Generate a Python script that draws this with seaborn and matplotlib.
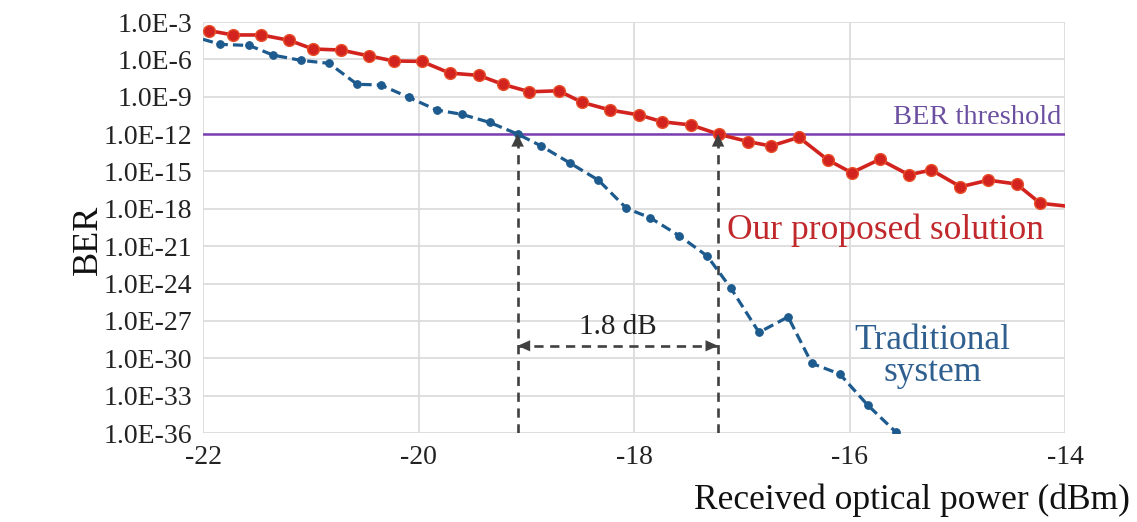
import numpy as np
import pandas as pd
import matplotlib
matplotlib.use("Agg")
import matplotlib.pyplot as plt
from matplotlib.ticker import FixedLocator, FuncFormatter
import seaborn as sns

# ---- data ----
proposed_x = [-21.94, -21.72, -21.46, -21.20, -20.98, -20.72, -20.46, -20.23, -19.97, -19.71,
              -19.44, -19.22, -18.97, -18.70, -18.48, -18.22, -17.95, -17.74, -17.47, -17.21,
              -16.94, -16.73, -16.47, -16.20, -15.98, -15.72, -15.45, -15.24, -14.97, -14.71,
              -14.45, -14.23, -14.00]
proposed_ber = [2.0e-4, 9.1e-5, 9.1e-5, 3.4e-5, 6.8e-6, 5.6e-6, 1.9e-6, 7.4e-7, 6.9e-7, 7.9e-8,
                5.2e-8, 1.0e-8, 2.5e-9, 3.0e-9, 3.5e-10, 8.5e-11, 3.4e-11, 9.8e-12, 5.4e-12, 9.5e-13,
                2.5e-13, 1.1e-13, 5.5e-13, 8.3e-15, 7.9e-16, 9.3e-15, 5.4e-16, 1.3e-15, 5.9e-17, 2.0e-16,
                9.8e-17, 2.8e-18, 1.7e-18]

traditional_x = [-22.00, -21.84, -21.57, -21.35, -21.09, -20.83, -20.57, -20.35, -20.09, -19.83,
                 -19.60, -19.34, -19.08, -18.86, -18.59, -18.33, -18.07, -17.85, -17.58, -17.32,
                 -17.10, -16.84, -16.57, -16.35, -16.09, -15.83, -15.57]
traditional_ber = [4.1e-5, 1.6e-5, 1.3e-5, 2.2e-6, 8.3e-7, 4.8e-7, 1.0e-8, 8.7e-9, 8.9e-10, 8.5e-11,
                   3.9e-11, 8.7e-12, 1.0e-12, 1.1e-13, 4.5e-15, 2.0e-16, 1.1e-18, 1.9e-19, 6.9e-21, 1.6e-22,
                   4.1e-25, 1.2e-28, 2.1e-27, 3.9e-31, 5.4e-32, 1.7e-34, 1.2e-36]

ber_threshold = 1.0e-12
crossing_x = [-19.08, -17.22]
gap_label = "1.8 dB"
gap_level = 1.0e-29

y_ticks = [1e-3, 1e-6, 1e-9, 1e-12, 1e-15, 1e-18, 1e-21, 1e-24, 1e-27, 1e-30, 1e-33, 1e-36]
x_ticks = [-22, -20, -18, -16, -14]

# ---- style ----
sns.set_style("whitegrid")
plt.rcParams['font.family'] = ['Liberation Serif', 'DejaVu Serif']
plt.rcParams['mathtext.fontset'] = 'stix'

RED = "#d2231f"
BLUE = "#1d5a8e"
PURPLE = "#7a3fb0"
GRID = "#d9d9d9"
DARK = "#404040"

fig = plt.figure(figsize=(11.37, 5.22), dpi=100)
ax = fig.add_axes([203/1137, 1 - 433/522, (1065 - 203)/1137, (433 - 22)/522])

df_p = pd.DataFrame({"x": proposed_x, "ber": proposed_ber})
df_t = pd.DataFrame({"x": traditional_x, "ber": traditional_ber})

sns.lineplot(data=df_p, x="x", y="ber", ax=ax, color=RED, lw=2.6, marker="o",
             markersize=8.5, markeredgecolor="#e8502a", markeredgewidth=1.0,
             markevery=slice(0, len(proposed_x) - 1), zorder=4)
sns.lineplot(data=df_t, x="x", y="ber", ax=ax, color=BLUE, lw=2.3, marker="o",
             markersize=5.5, markeredgecolor=BLUE, dashes=False, linestyle=(0, (3.2, 1.6)),
             markevery=slice(1, len(traditional_x)), zorder=4)

ax.set_yscale("log")
ax.set_xlim(-22, -14)
ax.set_ylim(1e-36, 1e-3)
ax.yaxis.set_major_locator(FixedLocator(y_ticks))
ax.yaxis.set_minor_locator(FixedLocator([]))
ax.yaxis.set_major_formatter(FuncFormatter(lambda v, p: "1.0E%d" % int(round(np.log10(v)))))
ax.set_xticks(x_ticks)
ax.set_xticklabels([str(t) for t in x_ticks])
ax.tick_params(axis="both", labelsize=20, length=0, colors="#222222")
ax.tick_params(axis="y", pad=8)
ax.tick_params(axis="x", pad=9)
ax.grid(True, color=GRID, lw=1.2)
for s in ax.spines.values():
    s.set_visible(False)
ax.set_xlabel("")
ax.set_ylabel("")

# threshold
ax.axhline(ber_threshold, color=PURPLE, lw=1.8, zorder=3)
ax.text(-14.03, 2.0e-11, "BER threshold", color="#6b4fa0", fontsize=20.5,
        ha="right", va="center")

# vertical dashed markers with arrowheads
for cx in crossing_x:
    ax.plot([cx, cx], [1e-36, 2.2e-13], color=DARK, lw=1.9, ls=(0, (3.5, 2.5)), zorder=2)
    ax.annotate("", xy=(cx, ber_threshold), xytext=(0, -15), textcoords="offset points",
                arrowprops=dict(arrowstyle="-|>,head_length=0.9,head_width=0.45",
                                color=DARK, lw=0.01, shrinkA=0, shrinkB=0), zorder=5)

# horizontal double arrow
ax.plot(crossing_x, [gap_level, gap_level], color=DARK, lw=1.9, ls=(0, (3.5, 2.5)), zorder=2)
ax.annotate("", xy=(crossing_x[0], gap_level), xytext=(14, 0), textcoords="offset points",
            arrowprops=dict(arrowstyle="-|>,head_length=0.9,head_width=0.4",
                            color=DARK, lw=0.01, shrinkA=0, shrinkB=0))
ax.annotate("", xy=(crossing_x[1], gap_level), xytext=(-14, 0), textcoords="offset points",
            arrowprops=dict(arrowstyle="-|>,head_length=0.9,head_width=0.4",
                            color=DARK, lw=0.01, shrinkA=0, shrinkB=0))
ax.text(np.mean(crossing_x), 3e-28, gap_label, fontsize=21, color="#222222",
        ha="center", va="center")

# series labels
ax.text(-17.14, 2.0e-20, "Our proposed solution", color="#c0282c", fontsize=25.5,
        ha="left", va="center")
ax.text(-15.23, 1.3e-30, "Traditional\nsystem", color="#2e5f8f", fontsize=25.5,
        ha="center", va="center", linespacing=0.95)

# axis titles
fig.text(88/1137, 1 - 240/522, "BER", rotation=90, fontsize=26, ha="center", va="center",
         color="#111111")
fig.text(1130/1137, 1 - 500/522, "Received optical power (dBm)", fontsize=25.5,
         ha="right", va="center", color="#111111")

fig.savefig("out.png", dpi=100)
